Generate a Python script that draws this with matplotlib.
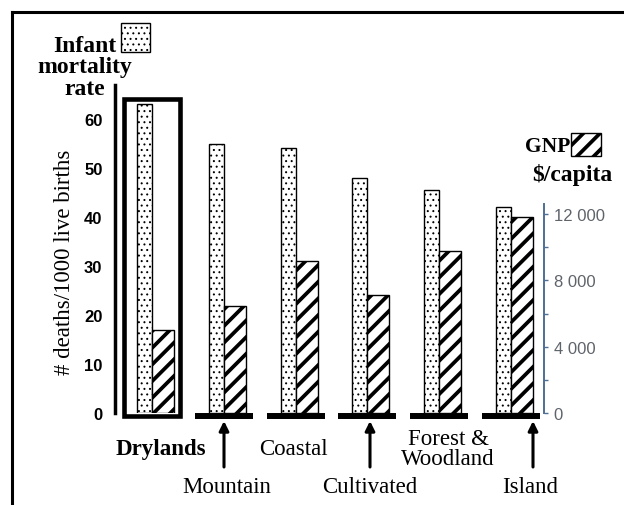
import numpy as np
import matplotlib.pyplot as plt
from matplotlib.patches import Rectangle
from matplotlib.lines import Line2D

# data
regions = ["Drylands", "Mountain", "Coastal", "Cultivated", "Forest &\nWoodland", "Island"]
infant_mortality = [63, 55, 54, 48, 45.5, 42]          # deaths / 1000 live births
gnp_per_capita = [5000, 6450, 9150, 7100, 9750, 11800]  # $ / capita
left_ticks = [0, 10, 20, 30, 40, 50, 60]
right_ticks = [0, 4000, 8000, 12000]
right_tick_labels = ["0", "4 000", "8 000", "12 000"]

W, H = 624, 506
SERIF = "Liberation Serif"
SANS = "Liberation Sans"
DOTS = "..."
STRIPES = "//"


def fx(px):
    return px / W


def fy(py):
    return 1 - py / H


def hatch_lw(patch, lw):
    if hasattr(patch, "set_hatch_linewidth"):
        patch.set_hatch_linewidth(lw)


fig = plt.figure(figsize=(W / 100, H / 100), dpi=100)

# one group step = 71.8 px, stipple bar 15 px, hatch bar 22 px
step = 71.8
w_st = 15 / step
w_ha = 22 / step
x = np.arange(len(regions))

ax = fig.add_axes([fx(115), fy(414), fx(544) - fx(115), (414 - 71) / H])
ax.set_xlim(-22 / step, (544 - 137) / step)
ax.set_ylim(0, 70)

plt.rcParams["hatch.linewidth"] = 0.7
bars1 = ax.bar(x, infant_mortality, width=w_st, align="edge", color="white",
               edgecolor="black", linewidth=1.0, hatch=DOTS, zorder=3)
for b in bars1:
    hatch_lw(b, 0.7)

ax2 = ax.twinx()
ax2.set_xlim(ax.get_xlim())
# 12 000 $ sits 199 px above the baseline, 10 deaths = 49 px
ax2.set_ylim(0, 70 * 12000 / (199 / 4.9))
plt.rcParams["hatch.linewidth"] = 2.7
bars2 = ax2.bar(x + w_st, gnp_per_capita, width=w_ha, align="edge", color="white",
                edgecolor="black", linewidth=1.0, hatch=STRIPES, zorder=3)
for b in bars2:
    hatch_lw(b, 2.7)

# left axis
for s in ["top", "right", "bottom"]:
    ax.spines[s].set_visible(False)
ax.spines["left"].set_linewidth(2.5)
ax.spines["left"].set_bounds(0, 67)
ax.set_xticks([])
ax.set_yticks(left_ticks)
ax.tick_params(axis="y", length=0, pad=9)
for t in ax.get_yticklabels():
    t.set_fontfamily(SANS)
    t.set_fontweight("bold")
    t.set_fontsize(12)

# right axis
blue = "#4f6f94"
for s in ["top", "left", "bottom"]:
    ax2.spines[s].set_visible(False)
ax2.spines["right"].set_color(blue)
ax2.spines["right"].set_linewidth(1.4)
ax2.spines["right"].set_bounds(0, 12600)
ax2.set_yticks(right_ticks)
ax2.set_yticklabels(right_tick_labels)
ax2.set_yticks([2000, 6000, 10000], minor=True)
ax2.tick_params(axis="y", which="both", direction="out", length=3, width=1,
                color=blue, labelcolor="#5f646b", labelsize=12, pad=4)
for t in ax2.get_yticklabels():
    t.set_fontfamily(SANS)

# thick baselines under each group, the Drylands group gets a frame
for i in x:
    if i == 0:
        ax.add_patch(Rectangle((i - 13 / step, -0.6), 55.5 / step, 64.7, fill=False,
                               edgecolor="black", linewidth=3.3, clip_on=False, zorder=4))
    else:
        ax.hlines(-0.6, i - 14 / step, i + 44 / step, color="black", linewidth=4.3,
                  clip_on=False, zorder=4)

# region labels: upper row plain, lower row pointed at with arrows
upper = {0: (161, 455), 2: (293, 455)}
lower = {1: (227, 493), 3: (370, 493), 5: (530, 493)}
arrow_x = {1: 224, 3: 370, 5: 533}
for i, (px, py) in upper.items():
    fig.text(fx(px), fy(py), regions[i], family=SERIF, fontsize=16.5,
             fontweight="bold" if i == 0 else "normal", ha="center", va="baseline")
fig.text(fx(448), fy(445), regions[4].split("\n")[0], family=SERIF, fontsize=16.5,
         ha="center", va="baseline")
fig.text(fx(448), fy(465), regions[4].split("\n")[1], family=SERIF, fontsize=16.5,
         ha="center", va="baseline")
for i, (px, py) in lower.items():
    fig.text(fx(px), fy(py), regions[i], family=SERIF, fontsize=16.5,
             ha="center", va="baseline")
    ax.annotate("", xy=(fx(arrow_x[i]), fy(422)), xytext=(fx(arrow_x[i]), fy(468)),
                xycoords="figure fraction", textcoords="figure fraction",
                arrowprops=dict(arrowstyle="-|>", color="black", lw=2.2,
                                mutation_scale=14, shrinkA=0, shrinkB=0))

# axis title
fig.text(fx(65), fy(262), "# deaths/1000 live births", family=SERIF, fontsize=16.5,
         rotation=90, ha="center", va="center")

# legend-like captions
for txt, py in [("Infant", 52), ("mortality", 73), ("rate", 95)]:
    fig.text(fx(85), fy(py), txt, family=SERIF, fontsize=17, fontweight="bold",
             ha="center", va="baseline")
plt.rcParams["hatch.linewidth"] = 0.7
p1 = Rectangle((fx(121), fy(53)), fx(29), 29 / H, transform=fig.transFigure,
               facecolor="white", edgecolor="black", linewidth=1.0, hatch=DOTS)
hatch_lw(p1, 0.7)
fig.add_artist(p1)

fig.text(fx(570), fy(152), "GNP", family=SERIF, fontsize=15.5, fontweight="bold",
         ha="right", va="baseline")
fig.text(fx(532), fy(181), "$/capita", family=SERIF, fontsize=17, fontweight="bold",
         ha="left", va="baseline")
plt.rcParams["hatch.linewidth"] = 2.7
p2 = Rectangle((fx(571), fy(157)), fx(30), 23 / H, transform=fig.transFigure,
               facecolor="white", edgecolor="black", linewidth=1.0, hatch=STRIPES)
hatch_lw(p2, 2.7)
fig.add_artist(p2)

# outer frame (top and left only)
fig.add_artist(Line2D([fx(11.5), 1], [fy(12.5), fy(12.5)], color="black", lw=2.2,
                      transform=fig.transFigure))
fig.add_artist(Line2D([fx(11.5), fx(11.5)], [fy(12.5), 0], color="black", lw=2.2,
                      transform=fig.transFigure))

fig.savefig("out.png", dpi=100)
